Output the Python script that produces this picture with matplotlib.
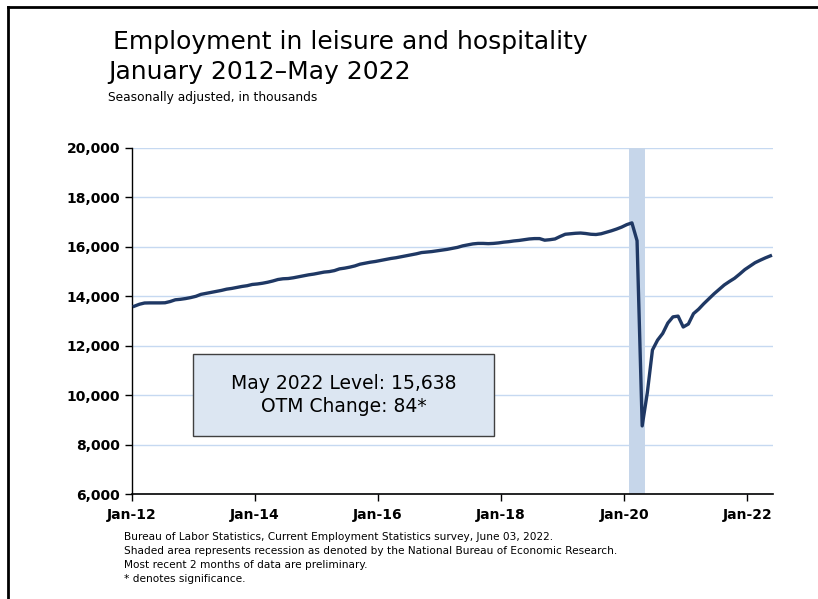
import numpy as np
import matplotlib.pyplot as plt
from matplotlib.patches import Rectangle
from matplotlib.lines import Line2D
from matplotlib.ticker import FuncFormatter

# monthly employment, Jan 2012 - May 2022 (thousands)
emp_2012 = [13600, 13680, 13730, 13735, 13735, 13735, 13740, 13790, 13860, 13880, 13910, 13950]
emp_2013 = [14000, 14080, 14120, 14160, 14200, 14240, 14290, 14320, 14360, 14400, 14430, 14480]
emp_2014 = [14500, 14530, 14570, 14620, 14680, 14710, 14720, 14750, 14790, 14830, 14870, 14900]
emp_2015 = [14940, 14980, 15000, 15040, 15110, 15140, 15180, 15230, 15300, 15340, 15380, 15410]
emp_2016 = [15450, 15490, 15530, 15560, 15600, 15640, 15680, 15720, 15770, 15790, 15810, 15840]
emp_2017 = [15870, 15900, 15940, 15980, 16040, 16080, 16120, 16140, 16140, 16130, 16140, 16160]
emp_2018 = [16190, 16210, 16240, 16260, 16290, 16320, 16335, 16335, 16270, 16290, 16320, 16420]
emp_2019 = [16510, 16530, 16550, 16560, 16540, 16510, 16500, 16530, 16590, 16650, 16720, 16800]
emp_2020 = [16900, 16970, 16250, 8760, 10100, 11830, 12230, 12500, 12920, 13170, 13200, 12760]
emp_2021 = [12880, 13300, 13480, 13700, 13900, 14100, 14280, 14460, 14600, 14730, 14900, 15080]
emp_2022 = [15220, 15360, 15460, 15554, 15638]

employment = (emp_2012 + emp_2013 + emp_2014 + emp_2015 + emp_2016 + emp_2017
              + emp_2018 + emp_2019 + emp_2020 + emp_2021 + emp_2022)

tick_labels = ['Jan-12', 'Jan-14', 'Jan-16', 'Jan-18', 'Jan-20', 'Jan-22']
# recession months (index from Jan 2012): Feb 2020 - Apr 2020
rec_start, rec_end = 97, 99

n = len(employment)
months = np.arange(n)

fig = plt.figure(figsize=(8.18, 5.99), dpi=100)
ax = fig.add_axes([0.161, 0.175, 0.784, 0.578])

ax.axvspan(rec_start, rec_end + 1, color='#c6d6ea', zorder=1, lw=0)
ax.plot(months + 0.5, employment, color='#1f3864', lw=2.4, zorder=3,
        solid_joinstyle='round')

ax.set_xlim(0, n)
ax.set_ylim(6000, 20000)
ax.set_yticks(np.arange(6000, 20001, 2000))
ax.yaxis.set_major_formatter(FuncFormatter(lambda v, p: f'{int(v):,}'))
ax.set_xticks(np.arange(0, n, 24))
ax.set_xticklabels(tick_labels)

ax.grid(axis='y', color='#c6d9f1', lw=1, zorder=0)
ax.set_axisbelow(True)
for s in ['top', 'right']:
    ax.spines[s].set_visible(False)
ax.spines['left'].set_linewidth(1)
ax.spines['bottom'].set_linewidth(1.2)
ax.tick_params(axis='both', direction='out', length=5, width=1, labelsize=10)
ax.tick_params(axis='x', pad=5)
for lbl in ax.get_xticklabels() + ax.get_yticklabels():
    lbl.set_fontweight('bold')

# level box
ax.add_patch(Rectangle((0.095, 0.168), 0.47, 0.237, transform=ax.transAxes,
                       facecolor='#dce6f2', edgecolor='#404040', lw=1, zorder=4))
ax.text(0.33, 0.287, 'May 2022 Level: 15,638\nOTM Change: 84*', transform=ax.transAxes,
        ha='center', va='center', fontsize=13.5, linespacing=1.3, zorder=5)

# titles
fig.text(0.138, 0.950, 'Employment in leisure and hospitality', fontsize=18, va='top')
fig.text(0.132, 0.900, 'January 2012\u2013May 2022', fontsize=18, va='top')
fig.text(0.132, 0.848, 'Seasonally adjusted, in thousands', fontsize=8.8, va='top')

notes = ['Bureau of Labor Statistics, Current Employment Statistics survey, June 03, 2022.',
         'Shaded area represents recession as denoted by the National Bureau of Economic Research.',
         'Most recent 2 months of data are preliminary.',
         '* denotes significance.']
for i, t in enumerate(notes):
    fig.text(0.151, 0.104 - i * 0.0234, t, fontsize=7.6, va='center')

# slide border
fig.add_artist(Line2D([0.0092, 0.0092], [0, 0.989], color='black', lw=2))
fig.add_artist(Line2D([0.0092, 1], [0.989, 0.989], color='black', lw=2))

fig.savefig('out.png', dpi=100)
